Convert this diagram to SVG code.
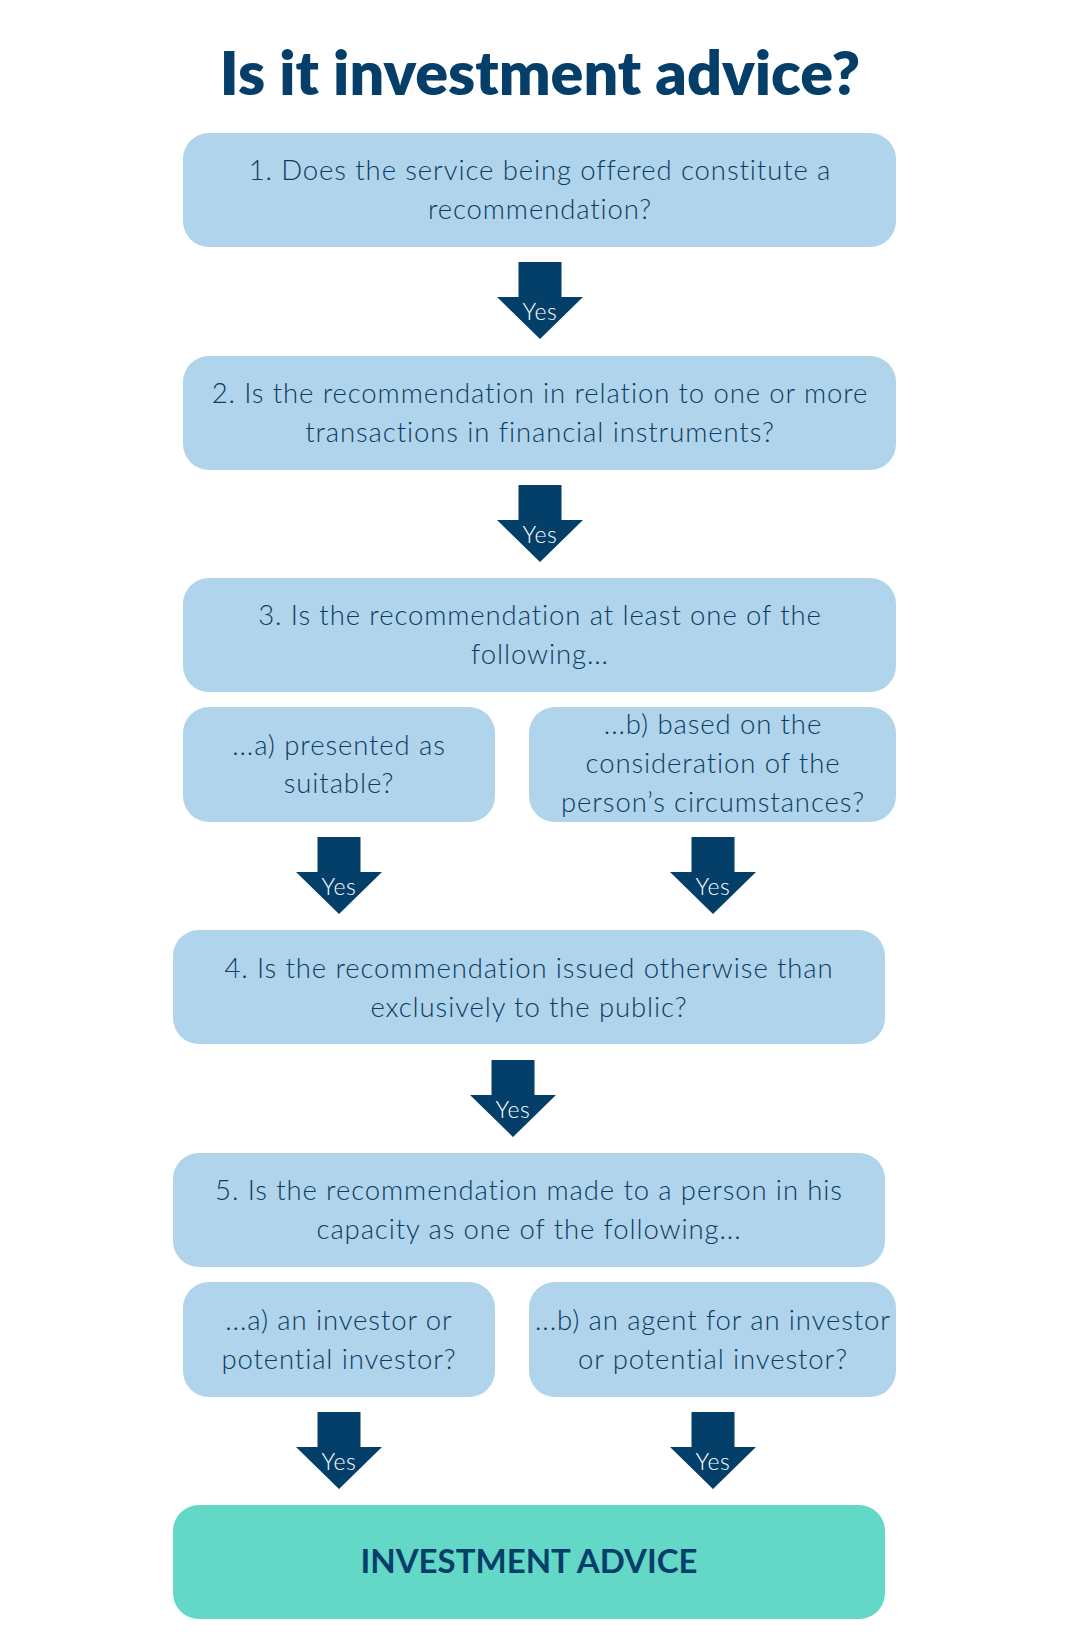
<svg xmlns="http://www.w3.org/2000/svg" width="1080" height="1650" viewBox="0 0 1080 1650">
<defs>
<style>
.box{fill:#b0d4eb}
.final{fill:#63d8c7}
.t{font-family:Lato,"Open Sans","Liberation Sans",sans-serif;font-weight:300;font-size:27.5px;letter-spacing:0.9px;fill:#0b3c62;text-anchor:middle}
.title{font-family:Lato,"Open Sans","Liberation Sans",sans-serif;font-weight:800;font-size:61px;fill:#053f69;text-anchor:middle}
.fin{font-family:Lato,"Open Sans","Liberation Sans",sans-serif;font-weight:700;font-size:33px;fill:#053f69;text-anchor:middle}
.yes{font-family:Lato,"Open Sans","Liberation Sans",sans-serif;font-weight:300;font-size:23px;letter-spacing:0.6px;fill:#ffffff;text-anchor:middle}
.arr{fill:#043f69}
</style>
<path id="arrow" class="arr" d="M-21.5,0 H21.5 V35 H43 L0,77 L-43,35 H-21.5 Z"/>
</defs>
<rect width="1080" height="1650" fill="#ffffff"/>
<text class="title" x="540" y="95">Is it investment advice?</text>

<g id="q1"><rect class="box" x="183" y="133" width="713" height="114" rx="26"/>
<text class="t" x="540" y="180">1. Does the service being offered constitute a</text>
<text class="t" x="540" y="219">recommendation?</text></g>

<g id="q2"><rect class="box" x="183" y="356" width="713" height="114" rx="26"/>
<text class="t" x="540" y="403">2. Is the recommendation in relation to one or more</text>
<text class="t" x="540" y="442">transactions in financial instruments?</text></g>

<g id="q3"><rect class="box" x="183" y="578" width="713" height="114" rx="26"/>
<text class="t" x="540" y="625">3. Is the recommendation at least one of the</text>
<text class="t" x="540" y="664">following...</text></g>

<g id="q3a"><rect class="box" x="183" y="707" width="312" height="115" rx="26"/>
<text class="t" x="339" y="755">...a) presented as</text>
<text class="t" x="339" y="793">suitable?</text></g>

<g id="q3b"><rect class="box" x="529" y="707" width="367" height="115" rx="26"/>
<text class="t" x="713" y="734">...b) based on the</text>
<text class="t" x="713" y="773">consideration of the</text>
<text class="t" x="713" y="812">person’s circumstances?</text></g>

<g id="q4"><rect class="box" x="173" y="930" width="712" height="114" rx="26"/>
<text class="t" x="529" y="978">4. Is the recommendation issued otherwise than</text>
<text class="t" x="529" y="1017">exclusively to the public?</text></g>

<g id="q5"><rect class="box" x="173" y="1153" width="712" height="114" rx="26"/>
<text class="t" x="529" y="1200">5. Is the recommendation made to a person in his</text>
<text class="t" x="529" y="1239">capacity as one of the following...</text></g>

<g id="q5a"><rect class="box" x="183" y="1282" width="312" height="115" rx="26"/>
<text class="t" x="339" y="1330">...a) an investor or</text>
<text class="t" x="339" y="1369">potential investor?</text></g>

<g id="q5b"><rect class="box" x="529" y="1282" width="367" height="115" rx="26"/>
<text class="t" x="713" y="1330">...b) an agent for an investor</text>
<text class="t" x="713" y="1369">or potential investor?</text></g>

<g id="result"><rect class="final" x="173" y="1505" width="712" height="114" rx="26"/>
<text class="fin" x="529" y="1573">INVESTMENT ADVICE</text></g>

<g id="connectors">
<g transform="translate(540,262)"><use href="#arrow"/><text class="yes" y="58">Yes</text></g>
<g transform="translate(540,485)"><use href="#arrow"/><text class="yes" y="58">Yes</text></g>
<g transform="translate(339,837)"><use href="#arrow"/><text class="yes" y="58">Yes</text></g>
<g transform="translate(713,837)"><use href="#arrow"/><text class="yes" y="58">Yes</text></g>
<g transform="translate(513,1060)"><use href="#arrow"/><text class="yes" y="58">Yes</text></g>
<g transform="translate(339,1412)"><use href="#arrow"/><text class="yes" y="58">Yes</text></g>
<g transform="translate(713,1412)"><use href="#arrow"/><text class="yes" y="58">Yes</text></g>
</g>
</svg>
